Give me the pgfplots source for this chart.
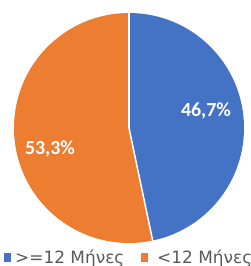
\documentclass[border=0pt]{standalone}
\usepackage{pgfplots}
\pgfplotsset{compat=1.18}
\usepackage{pgfplotstable}
\usepackage{fontspec}
\setmainfont{Carlito}
\newfontfamily\legfont{DejaVu Sans}
\definecolor{xlblue}{HTML}{4472C4}
\definecolor{xlorange}{HTML}{ED7D31}
\definecolor{legtext}{HTML}{595959}
\pgfplotstableread{
label value
ge12 46.7
lt12 53.3
}\piedata
\begin{document}
\begin{tikzpicture}
\pgfplotstablegetelem{0}{value}\of\piedata \let\va\pgfplotsretval
\pgfplotstablegetelem{1}{value}\of\piedata \let\vb\pgfplotsretval
\pgfmathsetmacro\aa{\va*3.6}
\pgfmathsetmacro\ab{\vb*3.6}
\begin{axis}[at={(0,0)}, anchor=south west, width=251bp, height=266bp,
  scale only axis, xmin=0, xmax=251, ymin=0, ymax=266, hide axis, clip=false]
  % slices (blue clockwise from 12 o'clock, orange the rest)
  \fill[xlblue] (axis cs:129,138) -- (axis cs:129,253)
     arc[start angle=90, delta angle=-\aa, radius=115bp] -- cycle;
  \fill[xlorange] (axis cs:129,138) -- (axis cs:129,253)
     arc[start angle=90, delta angle=\ab, radius=115bp] -- cycle;
  \draw[white, line width=1.5bp] (axis cs:129,138) -- (axis cs:129,253.5);
  \draw[white, line width=1.5bp] (axis cs:129,138) -- ++({90-\aa}:115.5bp);
  % data labels
  \node[text=white, font=\fontsize{20}{23}\selectfont\bfseries] at (axis cs:206,155) {46,7\%};
  \node[text=white, font=\fontsize{20}{23}\selectfont\bfseries] at (axis cs:50,117) {53,3\%};
  % legend
  \fill[xlblue] (axis cs:3.5,4) rectangle (axis cs:11,12.5);
  \node[anchor=base west, inner sep=0pt, text=legtext, font=\legfont\fontsize{17}{20}\selectfont] at (axis cs:15,3) {>=12 Μήνες};
  \fill[xlorange] (axis cs:140.5,4) rectangle (axis cs:148,12.5);
  \node[anchor=base west, inner sep=0pt, text=legtext, font=\legfont\fontsize{17}{20}\selectfont] at (axis cs:157,3) {<12 Μήνες};
\end{axis}
\pgfresetboundingbox
\useasboundingbox (0,0) rectangle (251bp,266bp);
\end{tikzpicture}
\end{document}
